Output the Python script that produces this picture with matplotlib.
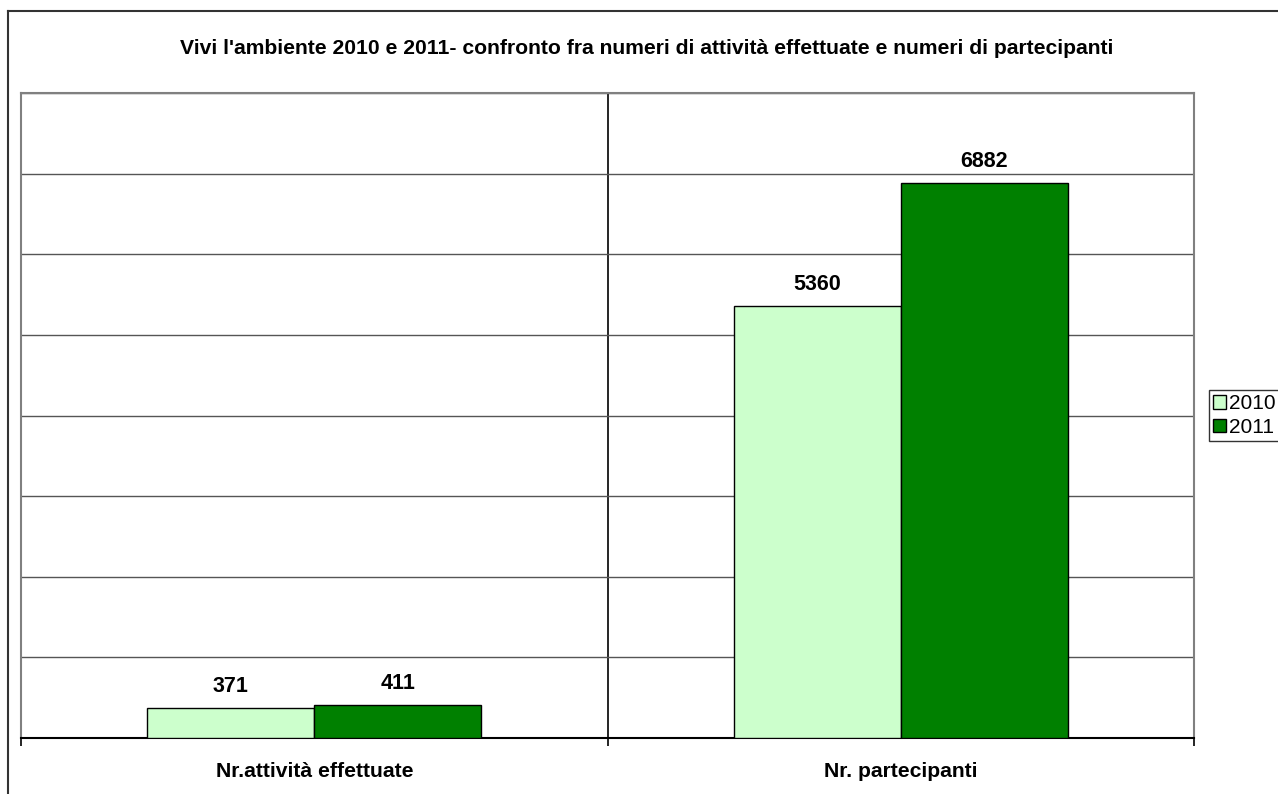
import matplotlib
matplotlib.use("Agg")
import matplotlib.pyplot as plt
from matplotlib.lines import Line2D
import numpy as np

plt.rcParams['font.family'] = ['Liberation Sans', 'DejaVu Sans']

# dati
categorie = ["Nr.attività effettuate", "Nr. partecipanti"]
anni = ["2010", "2011"]
valori_2010 = [371, 5360]
valori_2011 = [411, 6882]
colori = ["#CCFFCC", "#008000"]
titolo = "Vivi l'ambiente 2010 e 2011- confronto fra numeri di attività effettuate e numeri di partecipanti"

fig = plt.figure(figsize=(12.78, 7.94), dpi=100)
ax = fig.add_axes([21 / 1278, 56 / 794, (1194 - 21) / 1278, (738 - 93) / 794])

x = np.arange(len(categorie)) + 0.5
w = 0.285
for i, (vals, col, anno) in enumerate(zip([valori_2010, valori_2011], colori, anni)):
    pos = x + (i - 0.5) * w
    bars = ax.bar(pos, vals, width=w, color=col, edgecolor="black", linewidth=1.0,
                  label=anno, zorder=3)
    for b, v in zip(bars, vals):
        ax.annotate(str(v), (b.get_x() + b.get_width() / 2, v), xytext=(0, 8),
                    textcoords="offset points", ha="center", va="bottom",
                    fontsize=15.5, fontweight="bold")

ax.set_xlim(0, 2)
ax.set_ylim(0, 8000)
ax.set_yticks(np.arange(0, 8001, 1000))
ax.yaxis.grid(True, color="#555555", linewidth=1.0, zorder=0)
ax.tick_params(axis="y", left=False, labelleft=False)

# separatore tra le categorie
ax.axvline(1, color="black", linewidth=1.2, zorder=1)

ax.set_xticks([0, 1, 2], minor=False)
ax.set_xticklabels([])
ax.tick_params(axis="x", direction="out", length=6, width=1.2, color="black")
ax.set_xticks(x, minor=True)
ax.set_xticklabels(categorie, minor=True, fontsize=15.2, fontweight="bold")
ax.tick_params(axis="x", which="minor", length=0, pad=17)

for s in ["left", "right", "top"]:
    ax.spines[s].set_color("#808080")
    ax.spines[s].set_linewidth(1.5)
ax.spines["bottom"].set_color("black")
ax.spines["bottom"].set_linewidth(1.5)

fig.text(647 / 1278, 1 - 48 / 794, titolo, ha="center", va="center",
         fontsize=15.2, fontweight="bold")

leg = ax.legend(loc="center left", bbox_to_anchor=(1.0128, 0.5),
                frameon=True, fancybox=False, edgecolor="black", fontsize=15,
                handlelength=0.6, handleheight=0.6, handletextpad=0.15,
                borderpad=0.2, labelspacing=0.2, borderaxespad=0)
leg.get_frame().set_linewidth(1.0)

# cornice esterna del grafico
fig.add_artist(Line2D([8 / 1278, 8 / 1278], [0, 1 - 11 / 794], color="#333333", linewidth=1.5))
fig.add_artist(Line2D([8 / 1278, 1], [1 - 11 / 794, 1 - 11 / 794], color="#333333", linewidth=1.5))

fig.savefig("out.png", dpi=100)
